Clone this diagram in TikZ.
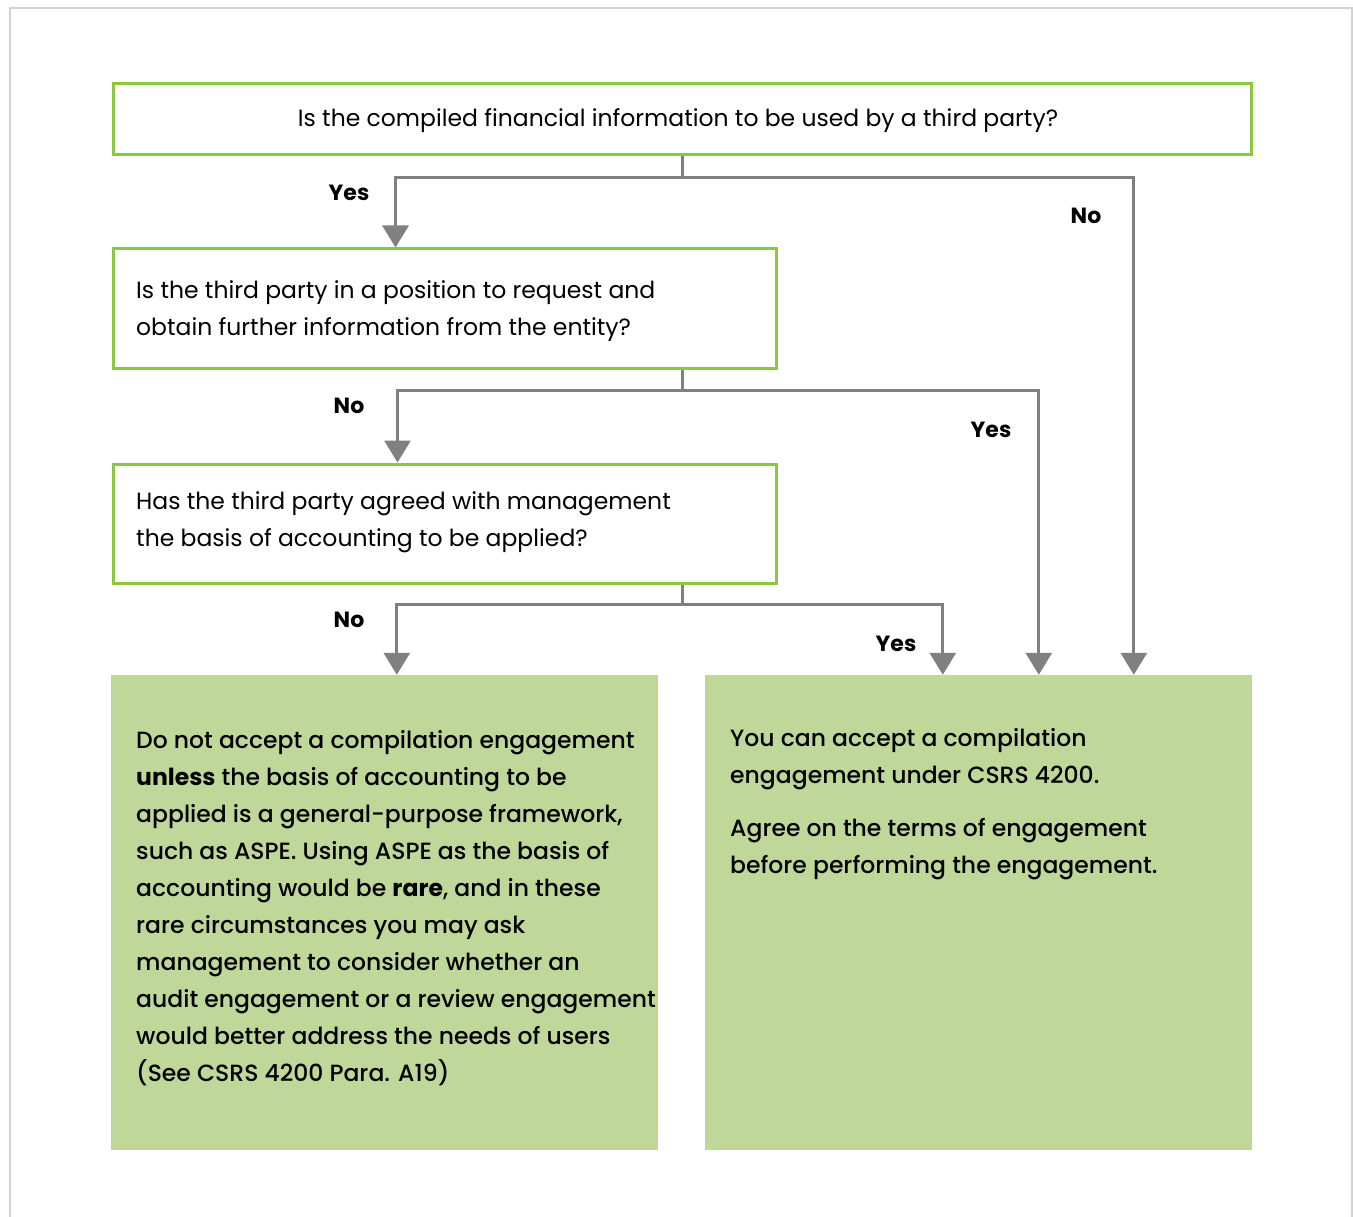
\documentclass[tikz,border=0pt]{standalone}
\usepackage{fontspec}
\setmainfont{Poppins}
\newfontfamily\pmed{Poppins Medium}[BoldFont={Poppins Bold}]
\usetikzlibrary{arrows.meta,calc}
\definecolor{qgreen}{HTML}{8DC63F}
\definecolor{rfill}{HTML}{BFD89A}
\definecolor{lgray}{HTML}{808083}
\definecolor{fgray}{HTML}{D2D2D2}
\begin{document}
\begin{tikzpicture}[x=1pt,y=-1pt,
  qbox/.style={draw=qgreen,line width=3pt,inner sep=0pt},
  rbox/.style={fill=rfill,inner sep=0pt},
  qtext/.style={font=\fontsize{23.5}{37}\selectfont,align=left,anchor=west,inner sep=0pt},
  rtext/.style={font=\pmed\fontsize{23.5}{37}\selectfont,align=left,anchor=north west,inner sep=0pt},
  lbl/.style={font=\fontsize{22}{24}\selectfont\bfseries,inner sep=0pt},
  conn/.style={draw=lgray,line width=3pt},
  arr/.style={conn,-{Triangle[length=22pt,width=26pt]}}]
\useasboundingbox (0,0) rectangle (1353,1217);
\draw[fgray,line width=1.5pt] (10,1217) -- (10,8) -- (1352,8) -- (1352,1217);
% question boxes
\node[qbox,minimum width=1138pt,minimum height=71pt] (q1) at (682,119.5) {};
\node[inner sep=0pt,font=\fontsize{23.5}{26}\selectfont] (t1) at (678,121) {Is the compiled financial information to be used by a third party?};
\node[qbox,minimum width=663pt,minimum height=119pt] (q2) at (444.5,308.5) {};
\node[qtext] (t2) at (136,311) {Is the third party in a position to request and\\obtain further information from the entity?};
\node[qbox,minimum width=663pt,minimum height=119pt] (q3) at (444.5,523.5) {};
\node[qtext] (t3) at (136,522.5) {Has the third party agreed with management\\the basis of accounting to be applied?};
% result boxes
\node[rbox,minimum width=547pt,minimum height=475pt] (r1) at (384.5,912.5) {};
\node[rtext] (t4) at (136,730) {Do not accept a compilation engagement\\
\textbf{unless} the basis of accounting to be\\
applied is a general-purpose framework,\\
such as ASPE. Using ASPE as the basis of\\
accounting would be \textbf{rare}, and in these\\
rare circumstances you may ask\\
management to consider whether an\\
audit engagement or a review engagement\\
would better address the needs of users\\
(See CSRS 4200 Para. A19)};
\node[rbox,minimum width=547pt,minimum height=475pt] (r2) at (978.5,912.5) {};
\node[rtext] (t5) at (730,728) {You can accept a compilation\\engagement under CSRS 4200.};
\node[rtext] (t6) at (730,818) {Agree on the terms of engagement\\before performing the engagement.};
% junctions
\coordinate (j1) at (682,178);
\coordinate (j2) at (682,390);
\coordinate (j3) at (682,604);
\draw[conn] (j1 |- q1.south) -- (j1);
\draw[arr] (j1) -| ([xshift=284pt]q2.north west);
\draw[arr] (j1) -| ([xshift=429pt]r2.north west);
\draw[conn] (j2 |- q2.south) -- (j2);
\draw[arr] (j2) -| ([xshift=286pt]q3.north west);
\draw[arr] (j2) -| ([xshift=334pt]r2.north west);
\draw[conn] (j3 |- q3.south) -- (j3);
\draw[arr] (j3) -| ([xshift=286pt]r1.north west);
\draw[arr] (j3) -| ([xshift=238pt]r2.north west);
% labels
\node[lbl] (l1) at (349,193) {Yes};
\node[lbl] (l2) at (1086,216) {No};
\node[lbl] (l3) at (349,406) {No};
\node[lbl] (l4) at (991,430) {Yes};
\node[lbl] (l5) at (349,620) {No};
\node[lbl] (l6) at (896,644) {Yes};
\end{tikzpicture}
\end{document}
